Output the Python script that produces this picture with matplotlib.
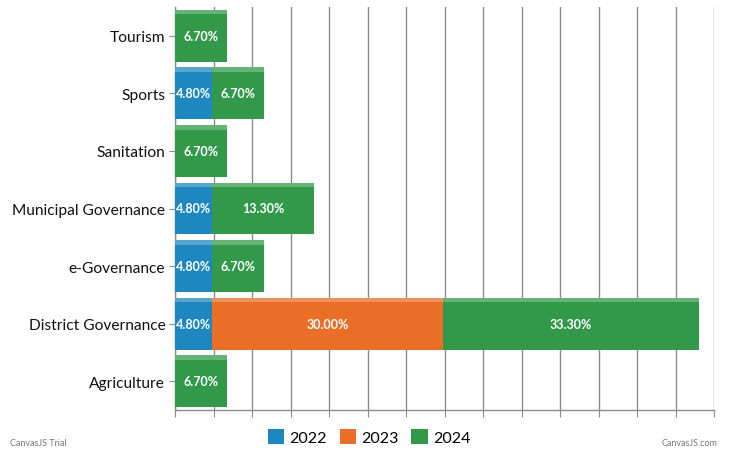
import numpy as np
import matplotlib.pyplot as plt
from matplotlib.patches import Patch

categories = ["Agriculture", "District Governance", "e-Governance",
              "Municipal Governance", "Sanitation", "Sports", "Tourism"]
years = ["2022", "2023", "2024"]
values_2022 = [0, 4.8, 4.8, 4.8, 0, 4.8, 0]
values_2023 = [0, 30.0, 0, 0, 0, 0, 0]
values_2024 = [6.7, 33.3, 6.7, 13.3, 6.7, 6.7, 6.7]

colors = ["#1f87c0", "#e96e28", "#33994a"]
font = ["Lato", "DejaVu Sans"]

fig = plt.figure(figsize=(7.38, 4.56), dpi=100)
ax = fig.add_axes([175 / 738, 45 / 456, 539 / 738, 403 / 456])

y = np.arange(len(categories))
h = 0.9
left = np.zeros(len(categories))
for vals, col in zip([values_2022, values_2023, values_2024], colors):
    vals = np.array(vals)
    mask = vals > 0
    ax.barh(y[mask], vals[mask], left=left[mask], height=h, color=col,
            edgecolor="none", zorder=3)
    # soft bevel highlight along the top of each bar
    ax.barh(y[mask] + h / 2 - 0.04, vals[mask], left=left[mask], height=0.08,
            color="white", alpha=0.25, edgecolor="none", zorder=4)
    for yi, v, l in zip(y[mask], vals[mask], left[mask]):
        ax.text(l + v / 2, yi, f"{v:.2f}%", ha="center", va="center",
                color="white", fontsize=9, fontweight="bold",
                family=font, zorder=5)
    left = left + vals

ax.set_xlim(0, 70)
ax.set_ylim(-0.5, 6.5)
ax.set_xticks(np.arange(0, 71, 5))
ax.set_xticklabels([])
ax.set_yticks(y)
ax.set_yticklabels(categories, fontsize=11.2, family=font, color="#111111")
ax.grid(axis="x", color="#8c8c8c", linewidth=1, zorder=0)
ax.tick_params(axis="x", length=5, color="#8c8c8c", direction="out")
ax.tick_params(axis="y", length=4, color="#8c8c8c", pad=3)
for side in ["top", "right"]:
    ax.spines[side].set_visible(False)
for side in ["left", "bottom"]:
    ax.spines[side].set_color("#8c8c8c")
    ax.spines[side].set_linewidth(1)

handles = [Patch(facecolor=c, edgecolor="none") for c in colors]
fig.legend(handles, years, loc="center", bbox_to_anchor=(0.5, 18 / 456),
           ncol=3, frameon=False, prop={"family": font, "size": 11.5},
           handlelength=1.05, handleheight=1.05, handletextpad=0.3,
           columnspacing=0.8)

fig.text(10 / 738, 1 - 444 / 456, "CanvasJS Trial", fontsize=6.5,
         color="#777777", family=font, va="center")
fig.text(718 / 738, 1 - 444 / 456, "CanvasJS.com", fontsize=6.5,
         color="#777777", family=font, va="center", ha="right")

fig.savefig("out.png", dpi=100)
